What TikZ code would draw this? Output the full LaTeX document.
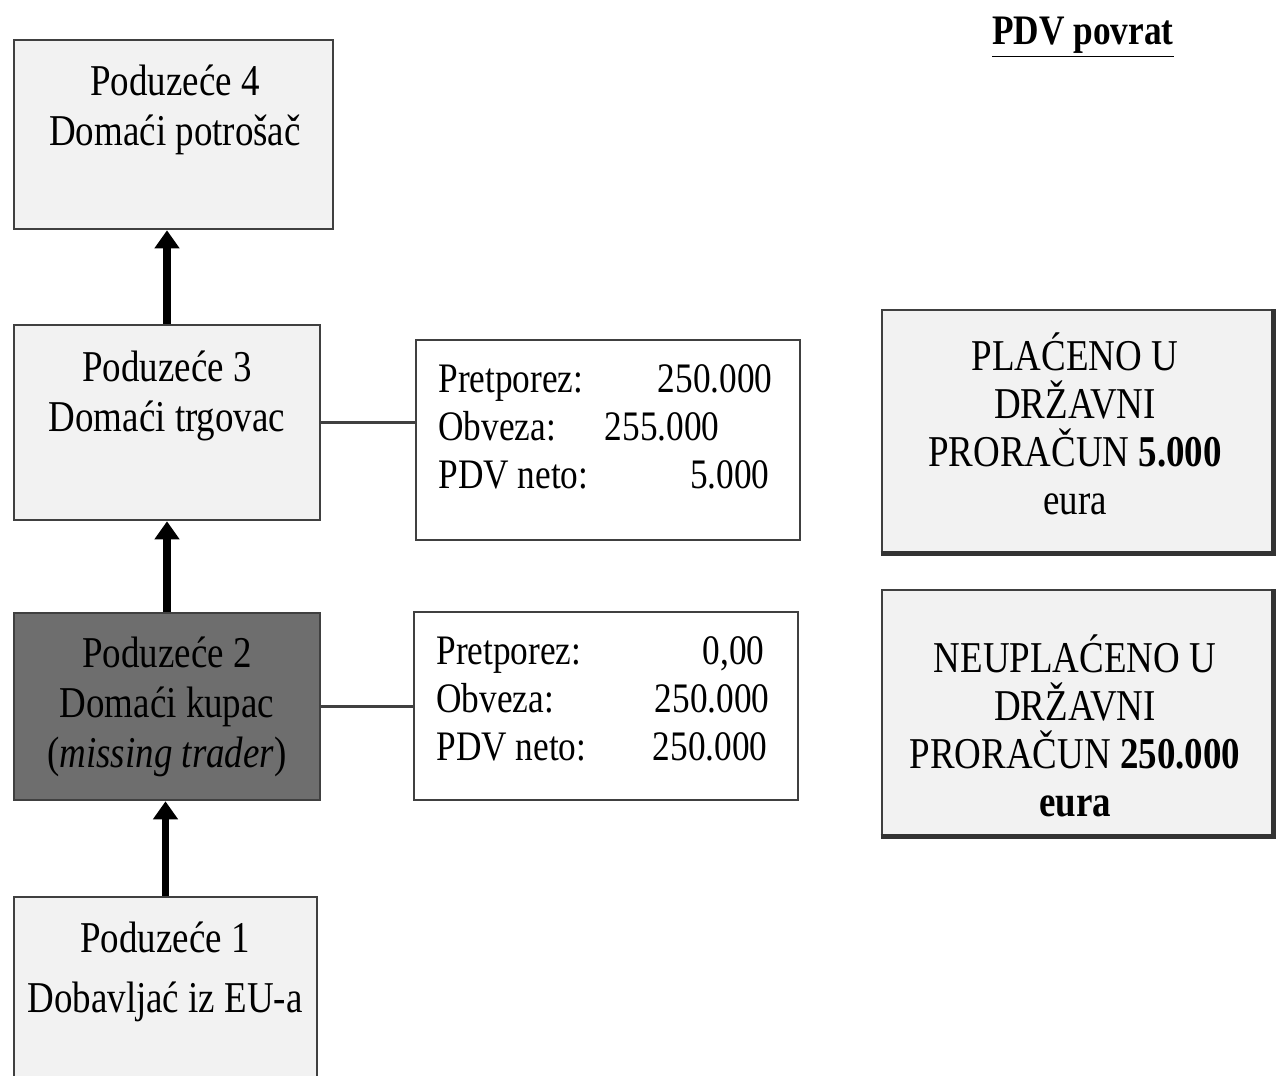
\documentclass[tikz,border=0pt]{standalone}
\usepackage{fontspec}
\setmainfont{Liberation Serif}[FakeStretch=0.84]
\usetikzlibrary{arrows.meta}
\definecolor{lightbox}{HTML}{F2F2F2}
\definecolor{darkbox}{HTML}{6E6E6E}
\definecolor{edge}{HTML}{404040}
\tikzset{
  firm/.style={draw=edge, line width=1.3pt, fill=lightbox, rectangle, inner sep=0pt},
  darkfirm/.style={firm, fill=darkbox},
  infobox/.style={draw=edge, line width=1.3pt, fill=white, rectangle, inner sep=0pt},
  resbox/.style={draw=edge, line width=1.3pt, fill=lightbox, rectangle, inner sep=0pt},
  boxtext/.style={inner sep=0pt, align=center, font=\fontsize{22pt}{25pt}\selectfont},
  bigtext/.style={inner sep=0pt, align=center, font=\fontsize{22pt}{30pt}\selectfont},
  restext/.style={inner sep=0pt, align=center, font=\fontsize{22pt}{24pt}\selectfont},
  infotext/.style={inner sep=0pt, font=\fontsize{21pt}{24pt}\selectfont},
  flow/.style={line width=3.8pt, -{Triangle[width=12pt,length=9pt]}},
  link/.style={draw=edge, line width=1.3pt},
  shadowline/.style={draw=edge!80!black, line width=2.2pt}
}
\begin{document}
\begin{tikzpicture}[x=0.5pt,y=-0.5pt]
\useasboundingbox (0,0) rectangle (1277,1075);
\clip (0,0) rectangle (1277,1075);

% firm boxes
\node[firm, minimum width=159.5pt, minimum height=94.5pt] (b4) at (173.5,134.5) {};
\node[firm, minimum width=153pt, minimum height=97.5pt] (b3) at (167,422.5) {};
\node[darkfirm, minimum width=153pt, minimum height=93.5pt] (b2) at (167,706.5) {};
\node[firm, minimum width=151.5pt, minimum height=111.5pt] (b1) at (165.5,1008.5) {};

\node[boxtext] (t4) at (175,110) {Poduzeće 4\\Domaći potrošač};
\node[boxtext] (t3) at (167,396) {Poduzeće 3\\Domaći trgovac};
\node[boxtext] (t2) at (167,707) {Poduzeće 2\\Domaći kupac\\(\textit{missing trader})};
\node[bigtext] (t1) at (165,972) {Poduzeće 1\\Dobavljać iz EU-a};

% arrows
\draw[flow] (b3.north) -- (b3.north |- b4.south);
\draw[flow] (b2.north) -- (b2.north |- b3.south);
\draw[flow] (b1.north) -- (b1.north |- b2.south);

% info boxes
\node[infobox, minimum width=192pt, minimum height=100pt] (i3) at (608,440) {};
\node[infobox, minimum width=192pt, minimum height=94pt] (i2) at (606,706) {};

\draw[link] (b3.east) -- (b3.east -| i3.west);
\draw[link] (b2.east) -- (b2.east -| i2.west);

\node[infotext, anchor=base west] (l31) at (438,392) {Pretporez:};
\node[infotext, anchor=base west] (l32) at (438,440) {Obveza:};
\node[infotext, anchor=base west] (l33) at (438,488) {PDV neto:};
\node[infotext, anchor=base east] (n31) at (773,392) {250.000};
\node[infotext, anchor=base east] (n32) at (720,440) {255.000};
\node[infotext, anchor=base east] (n33) at (770,488) {5.000};

\node[infotext, anchor=base west] (l21) at (436,664) {Pretporez:};
\node[infotext, anchor=base west] (l22) at (436,712) {Obveza:};
\node[infotext, anchor=base west] (l23) at (436,760) {PDV neto:};
\node[infotext, anchor=base east] (n21) at (765,664) {0,00};
\node[infotext, anchor=base east] (n22) at (770,712) {250.000};
\node[infotext, anchor=base east] (n23) at (768,760) {250.000};

% result boxes
\node[resbox, minimum width=195pt, minimum height=121pt] (r1) at (1077,431) {};
\node[resbox, minimum width=195pt, minimum height=122.5pt] (r2) at (1077,712.5) {};
\draw[shadowline] (r1.south west) -- (r1.south east) -- (r1.north east);
\draw[shadowline] (r2.south west) -- (r2.south east) -- (r2.north east);

\node[restext] (rt1) at (1075,424) {PLAĆENO U\\DRŽAVNI\\PRORAČUN \textbf{5.000}\\eura};
\node[restext] (rt2) at (1075,726) {NEUPLAĆENO U\\DRŽAVNI\\PRORAČUN \textbf{250.000}\\\textbf{eura}};

% title
\node[inner sep=0pt, font=\fontsize{21pt}{24pt}\selectfont\bfseries] (title) at (1083,37) {\underline{PDV povrat}};
\end{tikzpicture}
\end{document}
